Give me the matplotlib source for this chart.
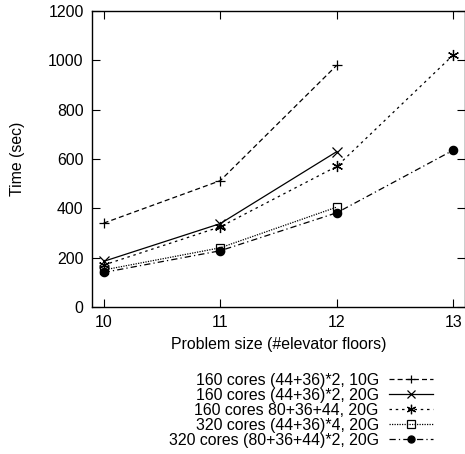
import matplotlib
matplotlib.use("Agg")
import matplotlib.pyplot as plt

plt.rcParams['font.family'] = ['Liberation Sans', 'DejaVu Sans']

floors = [10, 11, 12, 13]
labels = [
    "160 cores (44+36)*2, 10G",
    "160 cores (44+36)*2, 20G",
    "160 cores 80+36+44, 20G",
    "320 cores (44+36)*4, 20G",
    "320 cores (80+36+44)*2, 20G",
]
t_160_10g = [340, 512, 980]
t_160_20g = [185, 338, 630]
t_160_mixed = [170, 325, 570, 1022]
t_320_20g = [150, 240, 405]
t_320_mixed = [140, 228, 382, 636]

series = [t_160_10g, t_160_20g, t_160_mixed, t_320_20g, t_320_mixed]
styles = [
    dict(linestyle=(0, (4, 2.5)), marker='+', markersize=7, markerfacecolor='none'),
    dict(linestyle='-', marker='x', markersize=7, markerfacecolor='none'),
    dict(linestyle=(0, (2, 3)), marker=(6, 2, 0), markersize=8, markerfacecolor='none'),
    dict(linestyle=(0, (1, 1)), marker='s', markersize=6, markerfacecolor='none'),
    dict(linestyle=(0, (5, 2.5, 1, 2.5)), marker='o', markersize=6, markerfacecolor='black'),
]

FS = 11.4

fig = plt.figure(figsize=(4.65, 4.54), dpi=100)
ax = fig.add_axes([92 / 465, 1 - 307 / 454, (465 - 92) / 465, (307 - 11) / 454])

for vals, lab, st in zip(series, labels, styles):
    ax.plot(floors[:len(vals)], vals, color='black', lw=0.9, label=lab,
            markeredgecolor='black', markeredgewidth=0.9, **st)

ax.set_xlim(9.9, 13.1)
ax.set_ylim(0, 1200)
ax.set_xticks(floors)
ax.set_yticks(range(0, 1201, 200))
ax.tick_params(direction='in', top=True, right=True, labelsize=FS, length=6, width=0.8, pad=6)
for sp in ax.spines.values():
    sp.set_linewidth(1.0)

ax.set_xlabel("Problem size (#elevator floors)", fontsize=FS, labelpad=5)
ax.set_ylabel("Time (sec)", fontsize=FS, labelpad=17)

ax.legend(loc='upper right', bbox_to_anchor=(433 / 465, 1 - 373 / 454),
          bbox_transform=fig.transFigure, frameon=False, markerfirst=False,
          fontsize=FS, handlelength=2.8, handletextpad=0.63, labelspacing=0.0,
          borderpad=0, borderaxespad=0, markerscale=0.85)

fig.savefig("out.png", dpi=100, facecolor='white')
